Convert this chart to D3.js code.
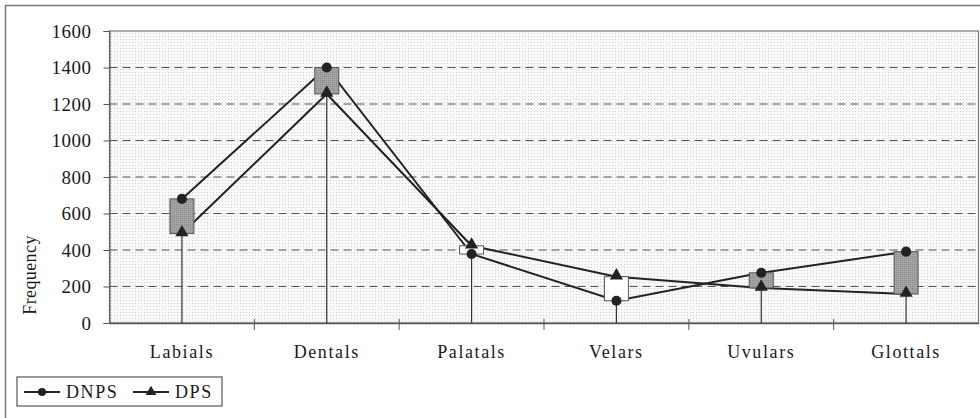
<!DOCTYPE html>
<html>
<head>
<meta charset="utf-8">
<script src="https://cdn.jsdelivr.net/npm/d3@7"></script>
<style>
  body { margin: 0; background: #fff; }
</style>
</head>
<body>
<svg class="chart-svg" width="980" height="418"></svg>
<script>
var categories = ["Labials", "Dentals", "Palatals", "Velars", "Uvulars", "Glottals"]
var dnps = [680, 1400, 378, 122, 275, 391]
var dps = [490, 1255, 423, 254, 192, 159]
var yTicks = [0, 200, 400, 600, 800, 1000, 1200, 1400, 1600]
var seriesNames = ["DNPS", "DPS"]

var serif = "'Liberation Serif', 'Times New Roman', 'DejaVu Serif', serif"
var margin = {left: 109.5, right: 1.5, top: 31, bottom: 95}
var width = 980, height = 418

var svg = d3.select(".chart-svg")

// stippled textures like the scanned Excel chart
var defs = svg.append("defs")
var bgPat = defs.append("pattern")
  .attr("id", "dots").attr("width", 3).attr("height", 3)
  .attr("patternUnits", "userSpaceOnUse")
bgPat.append("rect").attr("width", 3).attr("height", 3).attr("fill", "#f9f9f9")
bgPat.append("rect").attr("width", 1).attr("height", 1).attr("fill", "#cfcfcf")

var barPat = defs.append("pattern")
  .attr("id", "barDots").attr("width", 2).attr("height", 2)
  .attr("patternUnits", "userSpaceOnUse")
barPat.append("rect").attr("width", 2).attr("height", 2).attr("fill", "#a4a4a4")
barPat.append("rect").attr("width", 1).attr("height", 1).attr("fill", "#8a8a8a")

// outer chart border (top and left visible)
svg.append("path")
  .attr("d", "M5.5,418 L5.5,5.5 L980,5.5")
  .attr("fill", "none").attr("stroke", "#777").attr("stroke-width", 1.5)

var xScale = d3.scaleBand()
  .domain(categories)
  .range([margin.left, width - margin.right])

var yScale = d3.scaleLinear()
  .domain([0, 1600])
  .range([height - margin.bottom, margin.top])

var x0 = margin.left, x1 = width - margin.right
var yBase = yScale(0)

svg.append("rect")
  .attr("x", x0).attr("y", margin.top)
  .attr("width", x1 - x0).attr("height", yBase - margin.top)
  .attr("fill", "url(#dots)")
  .attr("stroke", "#777").attr("stroke-width", 1.2)

// dashed gridlines
svg.append("g").selectAll("line")
  .data(yTicks.filter(d => d > 0 && d < 1600))
  .enter().append("line")
  .attr("x1", x0).attr("x2", x1)
  .attr("y1", d => yScale(d)).attr("y2", d => yScale(d))
  .attr("stroke", "#555").attr("stroke-width", 1.2)
  .attr("stroke-dasharray", "8,5")

// y axis
var yAxis = svg.append("g")
  .attr("transform", "translate(" + x0 + ",0)")
  .call(d3.axisLeft(yScale).tickValues(yTicks).tickFormat(d3.format("d")).tickSize(6).tickPadding(12))
yAxis.select(".domain").attr("stroke", "#555")
yAxis.selectAll(".tick line").attr("stroke", "#555")
yAxis.selectAll("text")
  .style("font-family", serif).style("font-size", "19px")
  .attr("fill", "#1a1a1a").attr("letter-spacing", "0.5px")

// x axis
var xAxis = svg.append("g")
  .attr("transform", "translate(0," + yBase + ")")
  .call(d3.axisBottom(xScale).tickSize(0).tickPadding(22))
xAxis.select(".domain").attr("stroke", "#555").attr("stroke-width", 1.4)
xAxis.selectAll("text")
  .style("font-family", serif).style("font-size", "18px")
  .attr("fill", "#1a1a1a").attr("letter-spacing", "1.6px")

// category boundary ticks
svg.append("g").selectAll("line")
  .data(categories.slice(1))
  .enter().append("line")
  .attr("x1", d => xScale(d)).attr("x2", d => xScale(d))
  .attr("y1", yBase - 4).attr("y2", yBase + 7)
  .attr("stroke", "#555")

svg.append("text")
  .attr("transform", "translate(36,275) rotate(-90)")
  .attr("text-anchor", "middle")
  .style("font-family", serif).style("font-size", "18px")
  .attr("fill", "#1a1a1a").attr("letter-spacing", "0.4px")
  .text("Frequency")

var cx = d => xScale(d) + xScale.bandwidth() / 2
var rows = categories.map((c, i) => ({cat: c, a: dnps[i], b: dps[i]}))

// high-low lines from the axis
svg.append("g").selectAll("line")
  .data(rows).enter().append("line")
  .attr("x1", d => cx(d.cat)).attr("x2", d => cx(d.cat))
  .attr("y1", yBase).attr("y2", d => yScale(Math.max(d.a, d.b)))
  .attr("stroke", "#333").attr("stroke-width", 1.2)

// series lines
var line = d3.line().x(d => cx(d[0])).y(d => yScale(d[1]))
svg.append("path")
  .attr("d", line(categories.map((c, i) => [c, dnps[i]])))
  .attr("fill", "none").attr("stroke", "#222").attr("stroke-width", 2)
svg.append("path")
  .attr("d", line(categories.map((c, i) => [c, dps[i]])))
  .attr("fill", "none").attr("stroke", "#222").attr("stroke-width", 2)

// up/down bars
var barW = 24
svg.append("g").selectAll("rect")
  .data(rows).enter().append("rect")
  .attr("x", d => cx(d.cat) - barW / 2)
  .attr("y", d => yScale(Math.max(d.a, d.b)))
  .attr("width", barW)
  .attr("height", d => Math.abs(yScale(d.a) - yScale(d.b)))
  .attr("fill", d => d.b > d.a ? "#fff" : "url(#barDots)")
  .attr("stroke", "#555").attr("stroke-width", 1)

// markers
var circleSym = d3.symbol().type(d3.symbolCircle).size(80)
var triSym = d3.symbol().type(d3.symbolTriangle).size(75)
svg.append("g").selectAll("path")
  .data(rows).enter().append("path")
  .attr("d", circleSym)
  .attr("transform", d => "translate(" + cx(d.cat) + "," + yScale(d.a) + ")")
  .attr("fill", "#222")
svg.append("g").selectAll("path")
  .data(rows).enter().append("path")
  .attr("d", triSym)
  .attr("transform", d => "translate(" + cx(d.cat) + "," + (yScale(d.b) - 1) + ")")
  .attr("fill", "#222")

// legend
var legend = svg.append("g").attr("transform", "translate(17,377)")
legend.append("rect")
  .attr("width", 205).attr("height", 29)
  .attr("fill", "#fff").attr("stroke", "#555").attr("stroke-width", 1.2)
var items = [{x: 7, name: seriesNames[0], sym: circleSym},
             {x: 116, name: seriesNames[1], sym: triSym}]
items.forEach(it => {
  legend.append("line")
    .attr("x1", it.x).attr("x2", it.x + 36).attr("y1", 15).attr("y2", 15)
    .attr("stroke", "#222").attr("stroke-width", 1.8)
  legend.append("path")
    .attr("d", it.sym.size(50)())
    .attr("transform", "translate(" + (it.x + 18) + ",15)")
    .attr("fill", "#222")
  legend.append("text")
    .attr("x", it.x + 42).attr("y", 21)
    .style("font-family", serif).style("font-size", "18px")
    .attr("fill", "#1a1a1a").attr("letter-spacing", "1.6px")
    .text(it.name)
})
</script>
</body>
</html>
